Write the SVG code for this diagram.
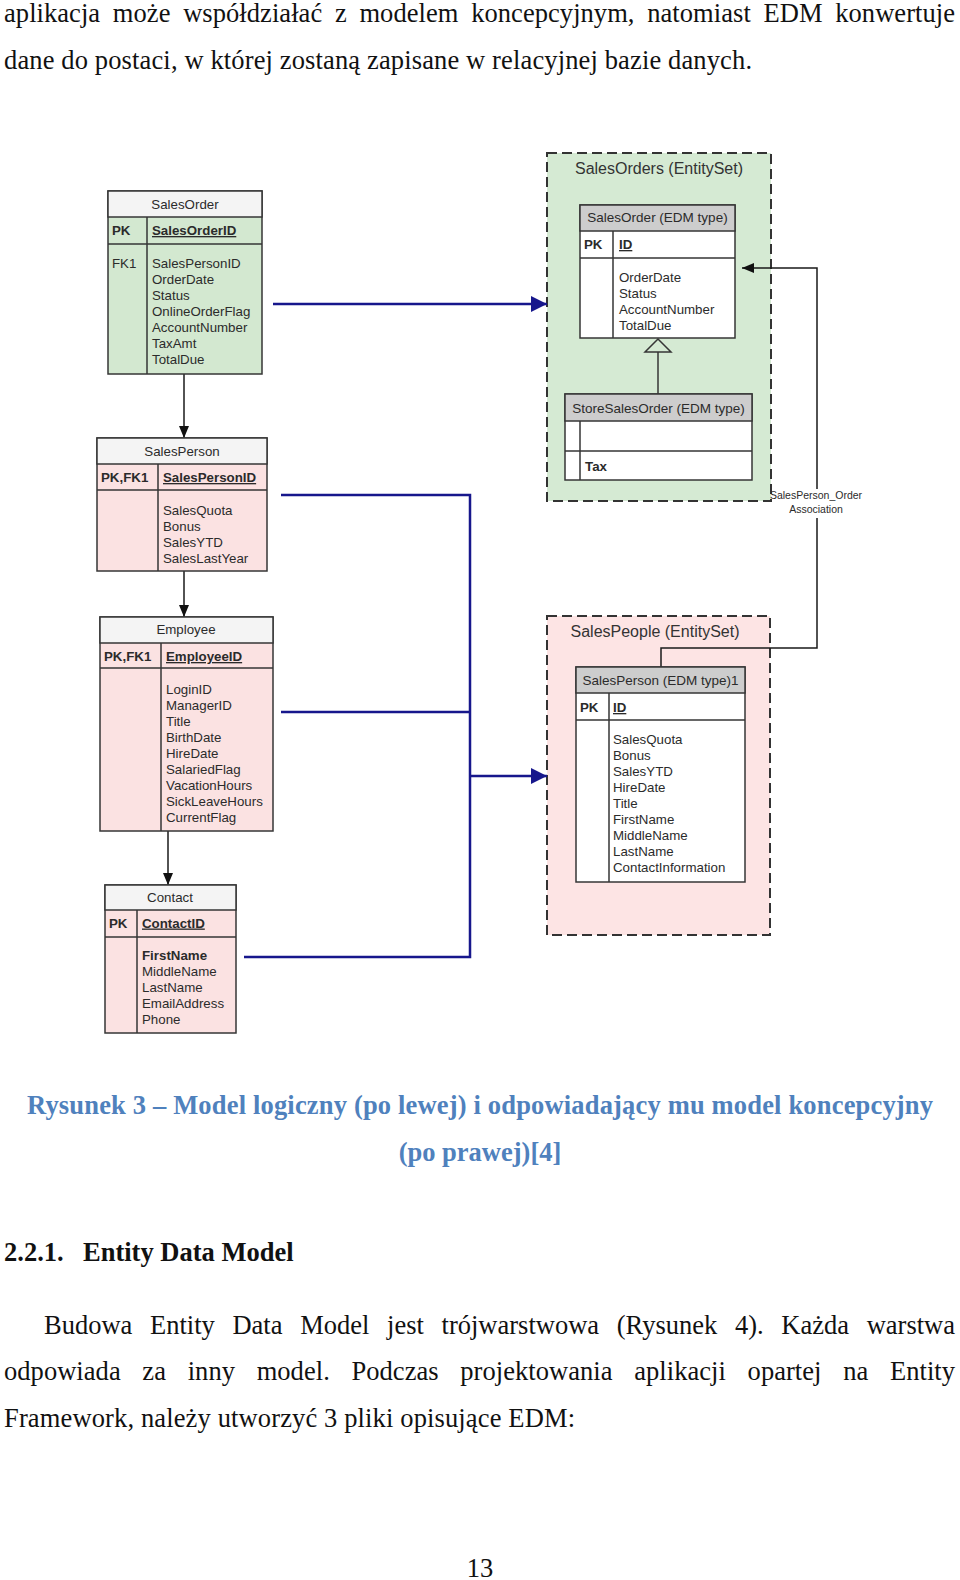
<svg xmlns="http://www.w3.org/2000/svg" width="960" height="1580" viewBox="0 0 960 1580">
<style>
.bg{fill:#ffffff}
.tb{stroke:#363636;stroke-width:1.5}
.ln{stroke:#363636;stroke-width:1.5;fill:none}
.hl{fill:#f4f4f4}
.hr{fill:#cdcdcd}
.g{fill:#d3e8d0}
.p{fill:#fbe2e2}
.w{fill:#ffffff}
.es{stroke:#333333;stroke-width:2;stroke-dasharray:10 5}
.eg{fill:#d5ead3}
.ep{fill:#fde4e4}
.t{font-family:"Liberation Sans",Arial,sans-serif;font-size:13.3px;fill:#2b2b2b}
.h{font-family:"Liberation Sans",Arial,sans-serif;font-size:13.5px;fill:#2b2b2b;text-anchor:middle}
.et{font-family:"Liberation Sans",Arial,sans-serif;font-size:16px;fill:#333333;text-anchor:middle}
.sm{font-family:"Liberation Sans",Arial,sans-serif;font-size:10.5px;fill:#2b2b2b;text-anchor:middle}
.b{font-weight:bold}
.u{text-decoration:underline}
.blue{stroke:#17178c;stroke-width:2.5;fill:none}
.blk{stroke:#1a1a1a;stroke-width:1.5;fill:none}
.body{font-family:"Liberation Serif","Times New Roman",serif;font-size:26.5px;fill:#111111}
.cap{font-family:"Liberation Serif","Times New Roman",serif;font-size:26.5px;font-weight:bold;fill:#4f81bd;text-anchor:middle}
</style>
<defs>
<marker id="ab" markerUnits="userSpaceOnUse" markerWidth="12" markerHeight="10" refX="12" refY="5" orient="auto"><path d="M0,0 L12,5 L0,10 z" fill="#111111"/></marker>
<marker id="an" markerUnits="userSpaceOnUse" markerWidth="16" markerHeight="16" refX="16" refY="8" orient="auto"><path d="M0,0 L16,8 L0,16 z" fill="#17178c"/></marker>
</defs>
<rect class="bg" x="0" y="0" width="960" height="1580"/>

<g id="page-text">
<text class="body" x="4" y="22" textLength="951" lengthAdjust="spacing" style="word-spacing:6px">aplikacja może współdziałać z modelem koncepcyjnym, natomiast EDM konwertuje</text>
<text class="body" x="4" y="68.5" textLength="748" lengthAdjust="spacing">dane do postaci, w której zostaną zapisane w relacyjnej bazie danych.</text>
<text class="cap" x="480" y="1114" textLength="906" lengthAdjust="spacing">Rysunek 3 – Model logiczny (po lewej) i odpowiadający mu model koncepcyjny</text>
<text class="cap" x="480" y="1160.5">(po prawej)[4]</text>
<text class="body b" x="4" y="1261">2.2.1.</text>
<text class="body b" x="83" y="1261">Entity Data Model</text>
<text class="body" x="44" y="1334" textLength="911" lengthAdjust="spacing" style="word-spacing:11px">Budowa Entity Data Model jest trójwarstwowa (Rysunek 4). Każda warstwa</text>
<text class="body" x="4" y="1380" textLength="951" lengthAdjust="spacing" style="word-spacing:15px">odpowiada za inny model. Podczas projektowania aplikacji opartej na Entity</text>
<text class="body" x="4" y="1426.5" textLength="571" lengthAdjust="spacing">Framework, należy utworzyć 3 pliki opisujące EDM:</text>
<text class="body" x="480" y="1576.5" text-anchor="middle">13</text>
</g>

<g id="SalesOrders-EntitySet">
<rect class="eg es" x="547" y="153" width="224" height="348"/>
<text class="et" x="659" y="174">SalesOrders (EntitySet)</text>
</g>

<g id="SalesPeople-EntitySet">
<rect class="ep es" x="547" y="616" width="223" height="319"/>
<text class="et" x="655" y="637">SalesPeople (EntitySet)</text>
</g>

<g id="connectors">
<path class="blk" d="M184,374 V438" marker-end="url(#ab)"/>
<path class="blk" d="M184,571 V617" marker-end="url(#ab)"/>
<path class="blk" d="M168,831 V885" marker-end="url(#ab)"/>
<path class="blue" d="M273,304 H547" marker-end="url(#an)"/>
<path class="blue" d="M281,495 H470 V957 H244"/>
<path class="blue" d="M281,712 H470"/>
<path class="blue" d="M470,776 H547" marker-end="url(#an)"/>
<path class="blk" d="M817,489 V268 H742" marker-end="url(#ab)"/>
<path class="blk" d="M817,518 V648 H661 V667"/>
<path class="ln" d="M658,352 V394"/>
<polygon class="ln" points="658,339 645,352 671,352"/>
<text class="sm" x="816" y="499">SalesPerson_Order</text>
<text class="sm" x="816" y="512.5">Association</text>
</g>

<g id="SalesOrder">
<rect class="g tb" x="108" y="191" width="154" height="183"/>
<rect class="hl tb" x="108" y="191" width="154" height="26"/>
<path class="ln" d="M108,244 H262 M147,217 V374"/>
<text class="t" x="185" y="209" text-anchor="middle">SalesOrder</text>
<text class="t b" x="112" y="235">PK</text>
<text class="t b u" x="152" y="235">SalesOrderID</text>
<text class="t" x="112" y="267.5">FK1</text>
<text class="t" x="152" y="267.5">SalesPersonID</text>
<text class="t" x="152" y="283.5">OrderDate</text>
<text class="t" x="152" y="299.5">Status</text>
<text class="t" x="152" y="315.5">OnlineOrderFlag</text>
<text class="t" x="152" y="331.5">AccountNumber</text>
<text class="t" x="152" y="347.5">TaxAmt</text>
<text class="t" x="152" y="363.5">TotalDue</text>
</g>

<g id="SalesPerson">
<rect class="p tb" x="97" y="438" width="170" height="133"/>
<rect class="hl tb" x="97" y="438" width="170" height="26"/>
<path class="ln" d="M97,490 H267 M158,464 V571"/>
<text class="t" x="182" y="455.5" text-anchor="middle">SalesPerson</text>
<text class="t b" x="101" y="482">PK,FK1</text>
<text class="t b u" x="163" y="482">SalesPersonID</text>
<text class="t" x="163" y="514.5">SalesQuota</text>
<text class="t" x="163" y="530.5">Bonus</text>
<text class="t" x="163" y="546.5">SalesYTD</text>
<text class="t" x="163" y="562.5">SalesLastYear</text>
</g>

<g id="Employee">
<rect class="p tb" x="100" y="617" width="173" height="214"/>
<rect class="hl tb" x="100" y="617" width="173" height="26"/>
<path class="ln" d="M100,668 H273 M161,643 V831"/>
<text class="t" x="186" y="634" text-anchor="middle">Employee</text>
<text class="t b" x="104" y="661">PK,FK1</text>
<text class="t b u" x="166" y="661">EmployeeID</text>
<text class="t" x="166" y="694">LoginID</text>
<text class="t" x="166" y="710">ManagerID</text>
<text class="t" x="166" y="726">Title</text>
<text class="t" x="166" y="742">BirthDate</text>
<text class="t" x="166" y="758">HireDate</text>
<text class="t" x="166" y="774">SalariedFlag</text>
<text class="t" x="166" y="790">VacationHours</text>
<text class="t" x="166" y="806">SickLeaveHours</text>
<text class="t" x="166" y="822">CurrentFlag</text>
</g>

<g id="Contact">
<rect class="p tb" x="105" y="885" width="131" height="148"/>
<rect class="hl tb" x="105" y="885" width="131" height="25"/>
<path class="ln" d="M105,937 H236 M137,910 V1033"/>
<text class="t" x="170" y="901.5" text-anchor="middle">Contact</text>
<text class="t b" x="109" y="927.5">PK</text>
<text class="t b u" x="142" y="927.5">ContactID</text>
<text class="t b" x="142" y="959.5">FirstName</text>
<text class="t" x="142" y="975.5">MiddleName</text>
<text class="t" x="142" y="991.5">LastName</text>
<text class="t" x="142" y="1007.5">EmailAddress</text>
<text class="t" x="142" y="1023.5">Phone</text>
</g>

<g id="SalesOrder-EDM">
<rect class="w tb" x="580" y="205" width="155" height="133"/>
<rect class="hr tb" x="580" y="205" width="155" height="26"/>
<path class="ln" d="M580,258 H735 M613,231 V338"/>
<text class="h" x="657.5" y="222">SalesOrder (EDM type)</text>
<text class="t b" x="584" y="249">PK</text>
<text class="t b u" x="619" y="249">ID</text>
<text class="t" x="619" y="281.5">OrderDate</text>
<text class="t" x="619" y="297.5">Status</text>
<text class="t" x="619" y="313.5">AccountNumber</text>
<text class="t" x="619" y="329.5">TotalDue</text>
</g>

<g id="StoreSalesOrder-EDM">
<rect class="w tb" x="565" y="394" width="187" height="86"/>
<rect class="hr tb" x="565" y="394" width="187" height="27"/>
<path class="ln" d="M565,451 H752 M580,421 V480"/>
<text class="h" x="658.5" y="412.5">StoreSalesOrder (EDM type)</text>
<text class="t b" x="585" y="470.5">Tax</text>
</g>

<g id="SalesPerson-EDM">
<rect class="w tb" x="576" y="667" width="169" height="215"/>
<rect class="hr tb" x="576" y="667" width="169" height="26"/>
<path class="ln" d="M576,720 H745 M609,693 V882"/>
<text class="h" x="660.5" y="685">SalesPerson (EDM type)1</text>
<text class="t b" x="580" y="712">PK</text>
<text class="t b u" x="613" y="712">ID</text>
<text class="t" x="613" y="744">SalesQuota</text>
<text class="t" x="613" y="760">Bonus</text>
<text class="t" x="613" y="776">SalesYTD</text>
<text class="t" x="613" y="792">HireDate</text>
<text class="t" x="613" y="808">Title</text>
<text class="t" x="613" y="824">FirstName</text>
<text class="t" x="613" y="840">MiddleName</text>
<text class="t" x="613" y="856">LastName</text>
<text class="t" x="613" y="872">ContactInformation</text>
</g>
</svg>
